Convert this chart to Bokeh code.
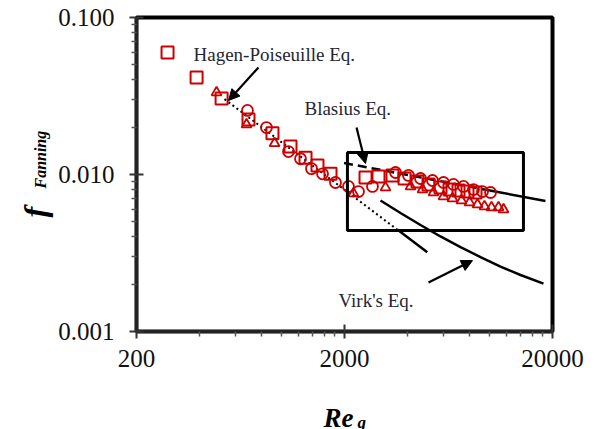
from bokeh.plotting import figure
from bokeh.models import (FixedTicker, PrintfTickFormatter, Label, Arrow, NormalHead,
                          BoxAnnotation, Range1d)
from bokeh.embed import file_html
from bokeh.resources import INLINE

# --- data ---
sq_re = [282, 389, 513, 691, 901, 1100, 1299, 1483, 1713, 2524, 2914, 3402, 3887, 4488,
         5068, 5788, 6396, 7065, 7804, 8529]
sq_f = [0.0599, 0.0415, 0.0305, 0.0224, 0.0183, 0.0151, 0.0128, 0.0114, 0.0101, 0.00957,
        0.00971, 0.00986, 0.00943, 0.00902, 0.00864, 0.00826, 0.00802, 0.00791, 0.00779, 0.00768]
ci_re = [683, 843, 1076, 1229, 1388, 1568, 1810, 2090, 2335, 2726, 3518, 4062, 4639, 5297,
         5984, 6683, 7466, 8340, 9214, 10070]
ci_f = [0.0256, 0.0199, 0.0140, 0.0126, 0.0109, 0.0101, 0.00889, 0.00839, 0.00779, 0.00839,
        0.0103, 0.00986, 0.00943, 0.00916, 0.00889, 0.00864, 0.00839, 0.00802, 0.00779, 0.00768]
tr_re = [485, 676, 922, 2209, 3149, 4154, 4743, 5357, 5984, 6610, 7304, 7980, 8720, 9420,
         10180, 11000, 11630]
tr_f = [0.0333, 0.0208, 0.0158, 0.00757, 0.00826, 0.00839, 0.00802, 0.00768, 0.00724, 0.00704,
        0.00683, 0.00663, 0.00644, 0.00626, 0.00617, 0.00617, 0.00598]

hp_dot_re = [530, 3600]
hp_dot_f = [0.0302, 0.00444]
hp_sol_re = [3600, 5000]
hp_sol_f = [0.00444, 0.0032]
bl_dash_re = [1990, 10000]
bl_dash_f = [0.01184, 0.00791]
bl_sol_re = [10000, 18500]
bl_sol_f = [0.00791, 0.00678]
virk_re = [2979, 3718, 4640, 5788, 7224, 9014, 11247, 14037, 18100]
virk_f = [0.00683, 0.00569, 0.00477, 0.00403, 0.00345, 0.00298, 0.00259, 0.00229, 0.00202]

box_re = [2066, 14500]
box_f = [0.00440, 0.0138]

x_ticks = [200, 2000, 20000]
x_minor = [400, 600, 800, 1000, 1200, 1400, 1600, 1800,
           4000, 6000, 8000, 10000, 12000, 14000, 16000, 18000]
y_ticks = [0.001, 0.01, 0.1]
y_minor = [0.002, 0.003, 0.004, 0.005, 0.006, 0.007, 0.008, 0.009,
           0.02, 0.03, 0.04, 0.05, 0.06, 0.07, 0.08, 0.09]

RED = "#CC0000"
SERIF = "Liberation Serif"

p = figure(x_axis_type="log", y_axis_type="log",
           x_range=Range1d(200, 20000), y_range=Range1d(0.001, 0.1),
           frame_width=416, frame_height=314,
           min_border_left=136, min_border_right=42, min_border_top=17, min_border_bottom=98,
           output_backend="svg", toolbar_location=None)
p.xgrid.visible = False
p.ygrid.visible = False
p.outline_line_color = "black"
p.outline_line_width = 4
p.background_fill_color = "white"
p.border_fill_color = "white"

for ax, ticks, minor, fmt in ((p.xaxis[0], x_ticks, x_minor, "%d"),
                              (p.yaxis[0], y_ticks, y_minor, "%.3f")):
    ax.ticker = FixedTicker(ticks=ticks, minor_ticks=minor)
    ax.formatter = PrintfTickFormatter(format=fmt)
    ax.axis_line_width = 3
    ax.axis_line_color = "#222222"
    ax.major_tick_in = 7
    ax.major_tick_out = 7
    ax.minor_tick_in = 0
    ax.minor_tick_out = 5
    ax.major_tick_line_width = 2
    ax.minor_tick_line_width = 1.5
    ax.major_tick_line_color = "#333333"
    ax.minor_tick_line_color = "#555555"
    ax.major_label_text_font = SERIF
    ax.major_label_text_font_size = "25px"
    ax.major_label_text_color = "#111111"
p.xaxis.major_label_standoff = 11
p.yaxis.major_label_standoff = 15

# equation lines
p.line(hp_dot_re, hp_dot_f, line_color="black", line_width=2, line_dash="2 3")
p.line(hp_sol_re, hp_sol_f, line_color="black", line_width=2.5)
p.line(bl_dash_re, bl_dash_f, line_color="black", line_width=2.5, line_dash="9 5")
p.line(bl_sol_re, bl_sol_f, line_color="black", line_width=2.5)
p.line(virk_re, virk_f, line_color="black", line_width=2.5)

# box
p.add_layout(BoxAnnotation(left=box_re[0], right=box_re[1], bottom=box_f[0], top=box_f[1],
                           fill_alpha=0, line_color="black", line_width=3, line_alpha=1))

# data markers
p.scatter(sq_re, sq_f, marker="square", size=12, fill_color=None, line_color=RED, line_width=2)
p.scatter(ci_re, ci_f, marker="circle", size=11, fill_color=None, line_color=RED, line_width=1.8)
p.scatter(tr_re, tr_f, marker="triangle", size=10, fill_color=None, line_color=RED, line_width=1.8)

# arrows
for xs, ys, xe, ye in ((772, 0.0481, 554, 0.0296),
                       (2285, 0.0199, 2523, 0.01175),
                       (5070, 0.00205, 8250, 0.00283)):
    p.add_layout(Arrow(end=NormalHead(size=11, fill_color="black", line_color="black"),
                       x_start=xs, y_start=ys, x_end=xe, y_end=ye,
                       line_color="black", line_width=2.2))

# text annotations
TXT = "#262633"
for t, x, y in (("Hagen-Poiseuille Eq.", 376, 0.0581),
                ("Blasius Eq.", 1284, 0.0263),
                ("Virk's Eq.", 1871, 0.001576)):
    p.add_layout(Label(x=x, y=y, text=t, text_font=SERIF, text_font_size="19px",
                       text_color=TXT, text_baseline="alphabetic", text_align="left"))

# axis titles: labels in side panels (not clipped), anchored in data coordinates
def title(text, x, y, size, angle, side):
    p.add_layout(Label(x=x, y=y, text=text, angle=angle,
                       text_font=SERIF, text_font_size=size,
                       text_font_style="bold italic", text_color="black",
                       text_baseline="alphabetic", text_align="left"), side)

title("f", 64.7, 0.005322, "32px", 1.5708, "left")
title("Fanning", 69.1, 0.008139, "16px", 1.5708, "left")
title("Re", 1585, 0.000283, "27px", 0.0, "below")
title("g", 2310, 0.000263, "17px", 0.0, "below")

open("out.html", "w").write(file_html(p, INLINE))
